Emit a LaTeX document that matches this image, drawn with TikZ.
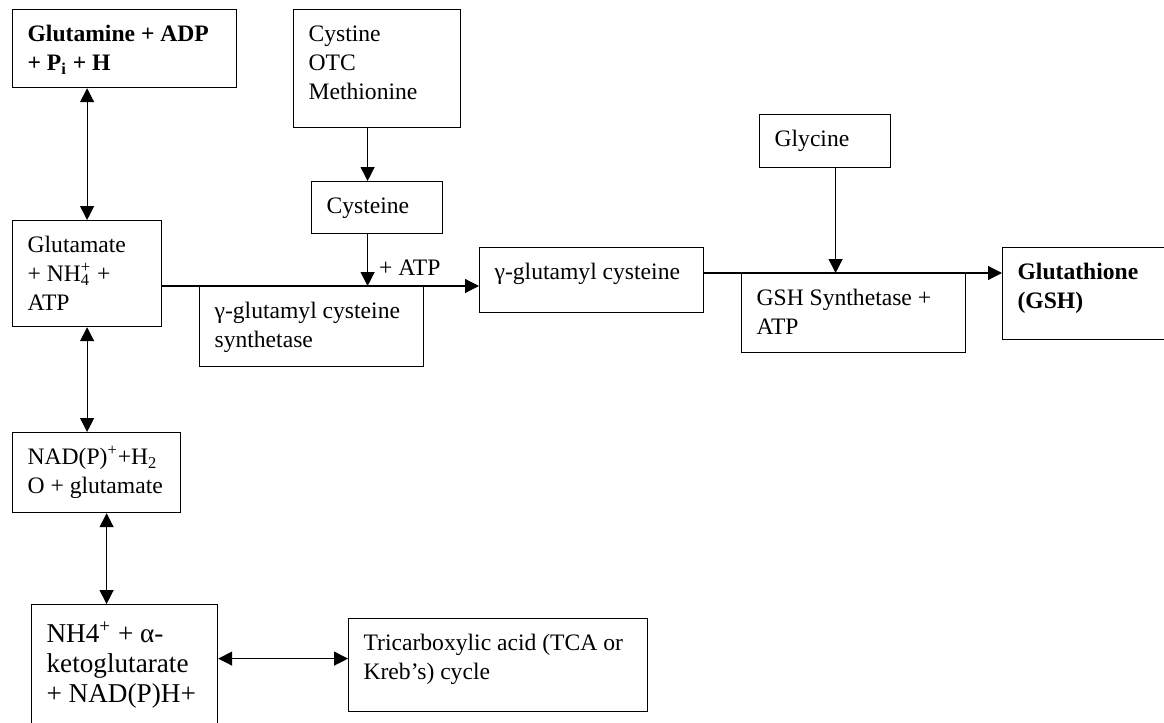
\documentclass[tikz,border=0pt]{standalone}
\usepackage{fontspec}
\setmainfont{Liberation Serif}
\usetikzlibrary{arrows.meta}

% text block of a box: [top pad]{width}{height}{lines}
\newcommand{\celltext}[4][5.8pt]{\parbox[t][#3][t]{#2}{\raggedright\leftskip=7.5pt\vspace*{#1}\strut#4}}

\tikzset{
  box/.style={draw, line width=0.6pt, anchor=north west, inner sep=0pt,
    font=\fontsize{11.8pt}{14.5pt}\selectfont},
  link/.style={line width=0.6pt, >={Triangle[length=7pt, width=7pt]}}
}

\begin{document}
\begin{tikzpicture}[x=0.5pt, y=-0.5pt]
	\useasboundingbox (0,0) rectangle (1164,723);
	\clip (0,0) rectangle (1164,723);

	% left column
	\node[box] (glnA) at (12,9) {\celltext{112pt}{39pt}{\textbf{Glutamine + ADP}\\\textbf{+ P\textsubscript{i} + H}}};
	\node[box] (glu) at (12,220) {\celltext{74.5pt}{53pt}{Glutamate\\+ NH\rlap{\textsubscript{4}}\textsuperscript{+} +\\ATP}};
	\node[box] (nadp) at (12,432) {\celltext{84pt}{40pt}{NAD(P)\textsuperscript{+}+H\textsubscript{2}\\O + glutamate}};
	\node[box, font=\fontsize{13.6pt}{15pt}\selectfont] (akg) at (31,604) {\celltext[8.5pt]{93pt}{70pt}{NH4\textsuperscript{+} + α-\\ketoglutarate\\+ NAD(P)H+}};
	\node[box] (tca) at (348,618) {\celltext{149.5pt}{46.5pt}{Tricarboxylic acid (TCA or\\Kreb’s) cycle}};

	% cysteine branch
	\node[box] (cystine) at (293,9) {\celltext{83.5pt}{59pt}{Cystine\\OTC\\Methionine}};
	\node[box] (cys) at (311,181) {\celltext{65.5pt}{26pt}{Cysteine}};
	\node[box] (gcs) at (199,286) {\celltext{112pt}{40pt}{γ-glutamyl cysteine\\synthetase}};

	% right part
	\node[box] (gglu) at (479,247) {\celltext{112pt}{32.5pt}{γ-glutamyl cysteine}};
	\node[box] (gly) at (759,114) {\celltext{65.5pt}{26.5pt}{Glycine}};
	\node[box] (gss) at (741,273) {\celltext{112pt}{39.5pt}{GSH Synthetase +\\ATP}};
	\node[box] (gsh) at (1002,247) {\celltext{90pt}{46pt}{\textbf{Glutathione}\\\textbf{(GSH)}}};

	\coordinate (tcain) at ([yshift=3.25pt]tca.west);

	\draw[link, <->] (glu.north |- glnA.south) -- (glu.north);
	\draw[link, <->] (glu.south) -- (glu.south |- nadp.north);
	\draw[link, <->] ([xshift=5pt]nadp.south) -- ([xshift=5pt]nadp.south |- akg.north);
	\draw[link, <->] (akg.east |- tcain) -- (tcain);

	\draw[link, ->] (glu.east |- gcs.north) -- (gglu.west |- gcs.north);
	\draw[link, ->] ([xshift=-4.75pt]cystine.south) -- ([xshift=-4.75pt]cystine.south |- cys.north);
	\draw[link, ->] ([xshift=-4.75pt]cys.south) -- ([xshift=-4.75pt]cys.south |- gcs.north)
		node[pos=0.64, right=5.5pt, inner sep=0pt, font=\fontsize{11.8pt}{14.5pt}\selectfont] (atp) {+ ATP};

	\draw[link, ->] ([xshift=5.25pt]gly.south) -- ([xshift=5.25pt]gly.south |- gss.north);
	\draw[link, ->] (gglu.east |- gss.north) -- (gsh.west |- gss.north);
\end{tikzpicture}
\end{document}
